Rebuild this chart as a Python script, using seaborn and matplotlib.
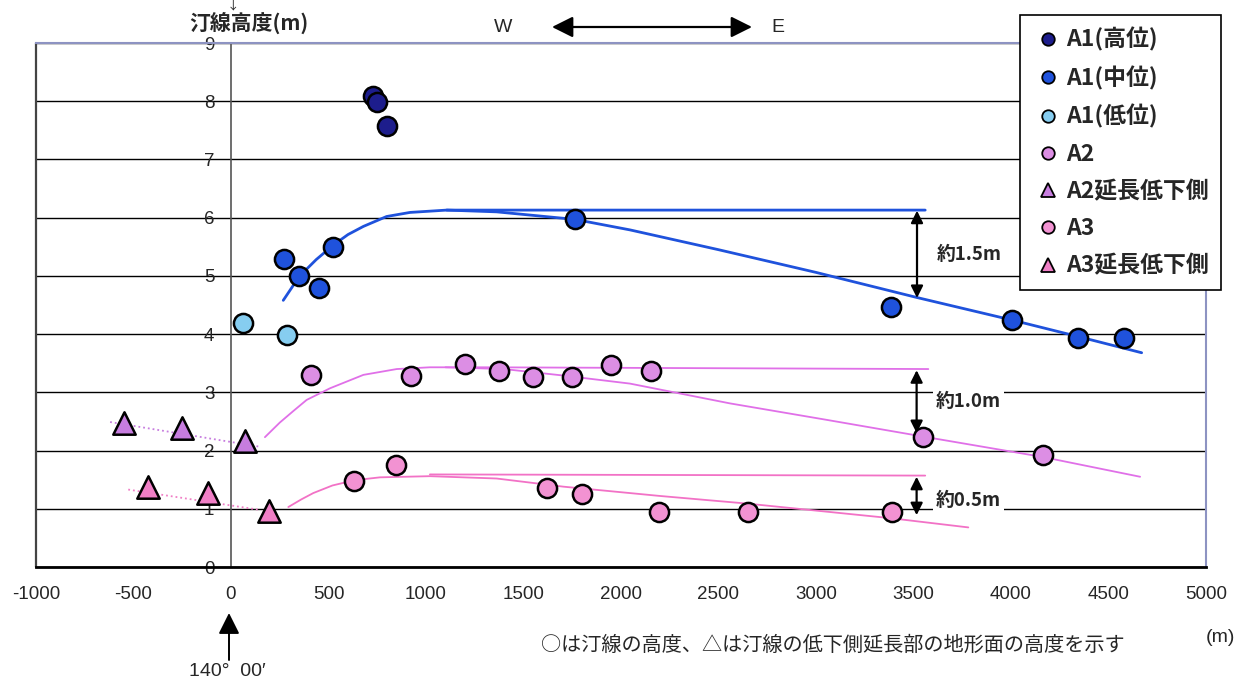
import numpy as np
import seaborn as sns
import matplotlib.pyplot as plt
from matplotlib.lines import Line2D

# shoreline heights (x: distance from 140°00' [m], y: height [m])
a1_high_x = [727, 749, 802]
a1_high_y = [8.09, 7.98, 7.58]
a1_mid_x = [272, 350, 450, 525, 1764, 3383, 4007, 4342, 4581]
a1_mid_y = [5.29, 4.99, 4.79, 5.49, 5.97, 4.46, 4.24, 3.94, 3.94]
a1_low_x = [60, 285]
a1_low_y = [4.19, 3.99]
a2_x = [409, 923, 1200, 1373, 1549, 1747, 1947, 2152, 3550, 4162]
a2_y = [3.30, 3.28, 3.48, 3.37, 3.27, 3.27, 3.47, 3.37, 2.24, 1.92]
a2_ext_x = [-549, -250, 72]
a2_ext_y = [2.47, 2.38, 2.17]
a3_x = [632, 846, 1621, 1798, 2196, 2651, 3388]
a3_y = [1.47, 1.76, 1.36, 1.25, 0.95, 0.94, 0.94]
a3_ext_x = [-427, -116, 193]
a3_ext_y = [1.37, 1.27, 0.96]

# hand-drawn trend lines
a1_rise_x = [268, 350, 437, 525, 600, 679, 798, 918, 1106, 3560]
a1_rise_y = [4.58, 4.99, 5.28, 5.53, 5.71, 5.85, 6.02, 6.09, 6.13, 6.13]
a1_fall_x = [1106, 1362, 1764, 2046, 2500, 3000, 3516, 4007, 4342, 4670]
a1_fall_y = [6.13, 6.10, 5.97, 5.79, 5.45, 5.06, 4.63, 4.24, 3.96, 3.68]
a2_rise_x = [174, 250, 320, 388, 508, 679, 850, 1020, 1300, 3576]
a2_rise_y = [2.23, 2.48, 2.68, 2.87, 3.07, 3.30, 3.40, 3.43, 3.43, 3.40]
a2_fall_x = [1100, 1400, 1700, 2046, 2559, 3050, 3550, 4162, 4662]
a2_fall_y = [3.43, 3.40, 3.29, 3.15, 2.81, 2.53, 2.24, 1.89, 1.55]
a3_curve_x = [294, 360, 422, 520, 632, 764, 1020, 1362, 1704, 2200, 2644, 3379, 3781]
a3_curve_y = [1.03, 1.16, 1.27, 1.40, 1.49, 1.54, 1.56, 1.52, 1.38, 1.22, 1.09, 0.84, 0.68]
a3_flat_x = [1020, 3560]
a3_flat_y = [1.59, 1.57]
a2_dot_x = [-620, 140]
a2_dot_y = [2.49, 2.07]
a3_dot_x = [-527, 149]
a3_dot_y = [1.33, 0.98]

# drop heights marked with arrows: (x, top, bottom, label y, label)
drops = [(3518, 6.12, 4.62, 5.36, "約1.5m"),
         (3516, 3.38, 2.30, 2.84, "約1.0m"),
         (3516, 1.55, 0.89, 1.15, "約0.5m")]

sns.set_style("white")
plt.rcParams['font.family'] = ['Liberation Sans Narrow', 'Liberation Sans', 'DejaVu Sans']
plt.rcParams['axes.unicode_minus'] = False
jp = ['Noto Sans CJK JP', 'DejaVu Sans']
lat = ['Liberation Sans', 'DejaVu Sans']

W, H = 1240, 684
fig = plt.figure(figsize=(12.4, 6.84), dpi=100)
ax = fig.add_axes([36 / W, 1 - 567 / H, (1206 - 36) / W, (567 - 43) / H])

c_high, c_mid, c_low = "#1d1d8c", "#1f52dc", "#86cdf0"
c_a2, c_a2t = "#dc8ee4", "#c77ddf"
c_a3, c_a3t = "#f292d2", "#f07fc6"
l_a2, l_a3 = "#e070e8", "#f272c6"

# lines
sns.lineplot(x=a1_rise_x, y=a1_rise_y, sort=False, estimator=None, color=c_mid, lw=2.0, ax=ax)
sns.lineplot(x=a1_fall_x, y=a1_fall_y, sort=False, estimator=None, color=c_mid, lw=2.0, ax=ax)
sns.lineplot(x=a2_rise_x, y=a2_rise_y, sort=False, estimator=None, color=l_a2, lw=1.3, ax=ax)
sns.lineplot(x=a2_fall_x, y=a2_fall_y, sort=False, estimator=None, color=l_a2, lw=1.3, ax=ax)
sns.lineplot(x=a3_curve_x, y=a3_curve_y, sort=False, estimator=None, color=l_a3, lw=1.3, ax=ax)
sns.lineplot(x=a3_flat_x, y=a3_flat_y, sort=False, estimator=None, color=l_a3, lw=1.3, ax=ax)
sns.lineplot(x=a2_dot_x, y=a2_dot_y, sort=False, estimator=None, color=c_a2t, lw=1.3, ls=':', ax=ax)
sns.lineplot(x=a3_dot_x, y=a3_dot_y, sort=False, estimator=None, color=c_a3t, lw=1.3, ls=':', ax=ax)

# points
pts = [(a1_high_x, a1_high_y, c_high, 'o'), (a1_mid_x, a1_mid_y, c_mid, 'o'),
       (a1_low_x, a1_low_y, c_low, 'o'), (a2_x, a2_y, c_a2, 'o'),
       (a2_ext_x, a2_ext_y, c_a2t, '^'), (a3_x, a3_y, c_a3, 'o'),
       (a3_ext_x, a3_ext_y, c_a3t, '^')]
for xs, ys, c, m in pts:
    sns.scatterplot(x=xs, y=ys, color=c, marker=m, s=190 if m == 'o' else 260,
                    edgecolor='black', linewidth=1.8, zorder=5, legend=False, ax=ax)

for x, top, bot, ly, txt in drops:
    ax.annotate('', xy=(x, top), xytext=(x, bot),
                arrowprops=dict(arrowstyle='<|-|>', color='black', lw=1.6,
                                mutation_scale=18, shrinkA=0, shrinkB=0))
    ax.text(x + 100, ly, txt, ha='left', va='center', fontsize=13.5, fontweight='bold',
            family=jp, bbox=dict(facecolor='white', edgecolor='none', pad=2), zorder=4)

# axes styling (Excel look: y axis crossing at x=0)
ax.set_xlim(-1000, 5000)
ax.set_ylim(0, 9)
ax.set_xticks(np.arange(-1000, 5001, 500))
ax.set_yticks(range(10))
ax.yaxis.grid(True, color='black', lw=1.0)
ax.set_axisbelow(True)
ax.spines['left'].set_position(('data', 0))
ax.spines['left'].set_color('#555555')
ax.spines['left'].set_linewidth(1.2)
ax.spines['bottom'].set_color('black')
ax.spines['bottom'].set_linewidth(2.0)
for s in ['top', 'right']:
    ax.spines[s].set_color('#8d93c2')
    ax.spines[s].set_linewidth(1.5)
ax.axvline(-1000, color='#444444', lw=1.6, clip_on=False)
ax.tick_params(axis='x', direction='in', length=5, width=1, pad=14, labelsize=13.5)
ax.tick_params(axis='y', direction='in', length=5, width=1, pad=12, labelsize=13.5)
ax.set_xlabel('')
ax.set_ylabel('')

# legend
handles = [Line2D([], [], ls='', marker=m, markersize=9 if m == 'o' else 10, markerfacecolor=c,
                  markeredgecolor='black', markeredgewidth=1.3) for _, _, c, m in pts]
labels = ["A1(高位)", "A1(中位)", "A1(低位)", "A2", "A2延長低下側", "A3", "A3延長低下側"]
leg = fig.legend(handles, labels, loc='upper left', bbox_to_anchor=(1020 / W, 1 - 15 / H),
                 borderaxespad=0, frameon=True, fancybox=False, edgecolor='black',
                 framealpha=1, handlelength=1.3, handletextpad=0.15, labelspacing=0.62,
                 borderpad=0.55, prop=dict(family=jp, weight='bold', size=16.5))
leg.get_frame().set_linewidth(1.2)

# surrounding annotations
fig.text(249 / W, 1 - 23 / H, "汀線高度(m)", ha='center', va='center', fontsize=15,
         fontweight='bold', family=jp)
fig.text(233 / W, 1 - 5 / H, "↓", ha='center', va='center', fontsize=9, family=jp)
fig.text(503 / W, 1 - 27 / H, "W", ha='center', va='center', fontsize=14, family=lat)
fig.text(778 / W, 1 - 27 / H, "E", ha='center', va='center', fontsize=14, family=lat)
ax.annotate('', xy=(752 / W, 1 - 27 / H), xytext=(552 / W, 1 - 27 / H),
            xycoords='figure fraction', textcoords='figure fraction',
            arrowprops=dict(arrowstyle='<|-|>', color='black', lw=1.6,
                            mutation_scale=32, shrinkA=0, shrinkB=0))
ax.annotate('', xy=(229 / W, 1 - 613 / H), xytext=(229 / W, 1 - 660 / H),
            xycoords='figure fraction', textcoords='figure fraction',
            arrowprops=dict(arrowstyle='-|>', color='black', lw=1.4,
                            mutation_scale=32, shrinkA=0, shrinkB=0))
fig.text(227 / W, 1 - 671 / H, "140°  00′", ha='center', va='center', fontsize=14,
         family=lat)
fig.text(833 / W, 1 - 645 / H, "○は汀線の高度、△は汀線の低下側延長部の地形面の高度を示す",
         ha='center', va='center', fontsize=14.5, family=jp)
fig.text(1220 / W, 1 - 637 / H, "(m)", ha='center', va='center', fontsize=14, family=lat)

fig.savefig('out.png', dpi=100)
